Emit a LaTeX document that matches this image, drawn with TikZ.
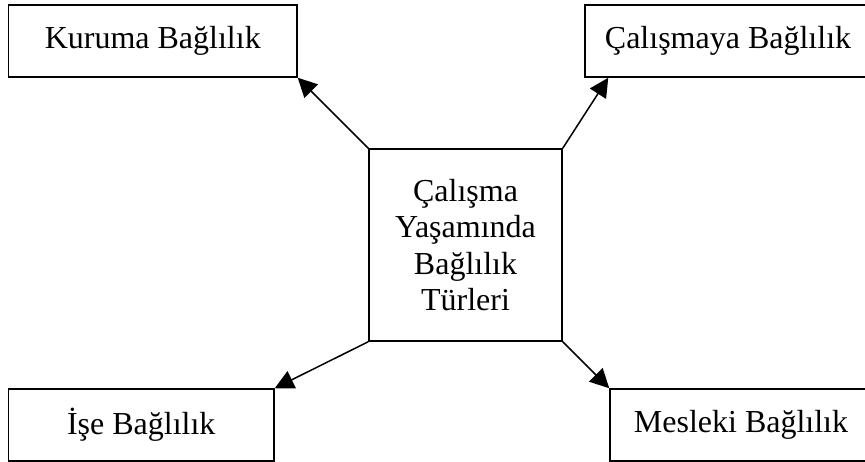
\documentclass[tikz,border=0pt]{standalone}
\usepackage{fontspec}
\setmainfont{Liberation Serif}
\usetikzlibrary{arrows.meta,calc}
\begin{document}
\begin{tikzpicture}[x=1pt,y=1pt,
  box/.style={draw,line width=1.5pt,inner sep=0pt,minimum height=72pt,
    font=\fontsize{32}{36.3}\selectfont},
  link/.style={line width=1.5pt,-{Triangle[length=19pt,width=19pt]}}]
  \clip (0,0) rectangle (865,461);
  \useasboundingbox (0,0) rectangle (865,461);
  \fill[white] (0,0) rectangle (865,461);
  % outer boxes
  \node[box,minimum width=288.5pt] (kurum) at (152.75,420) {Kuruma Bağlılık};
  \node[box,minimum width=286pt] (calis) at (728,420) {Çalışmaya Bağlılık};
  \node[box,minimum width=265.5pt] (ise) at (141.25,36) {İşe Bağlılık};
  \node[box,minimum width=262pt] (meslek) at (741,36) {Mesleki Bağlılık};
  % central box
  \node[box,minimum width=193pt,minimum height=192pt,align=center] (merkez) at (465.5,216)
    {Çalışma\\Yaşamında\\Bağlılık\\Türleri};
  \coordinate (calisuc) at ($(calis.south west)+(24,0)$);
  % connectors
  \draw[link] (merkez.north west) -- (kurum.south east);
  \draw[link] (merkez.north east) -- (calisuc);
  \draw[link] (merkez.south west) -- (ise.north east);
  \draw[link] (merkez.south east) -- (meslek.north west);
\end{tikzpicture}
\end{document}
